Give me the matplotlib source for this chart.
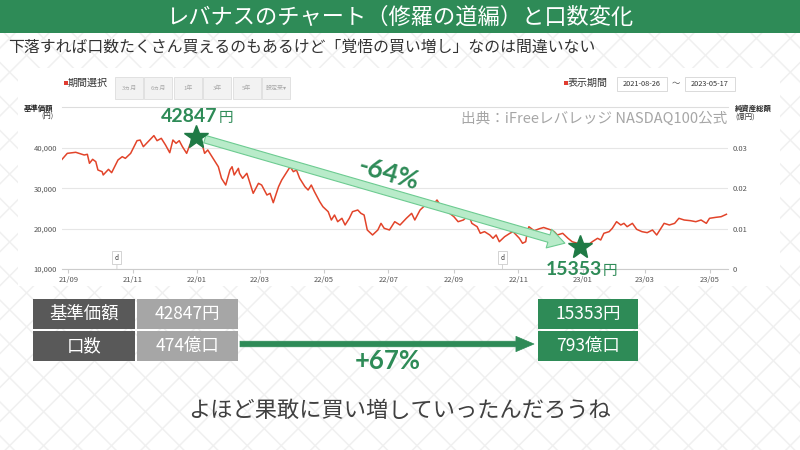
import numpy as np
import pandas as pd
import matplotlib
matplotlib.use('Agg')
import matplotlib.pyplot as plt
import matplotlib.dates as mdates
from matplotlib.patches import Rectangle
from matplotlib.collections import LineCollection
from matplotlib.ticker import FuncFormatter

plt.rcParams['font.family'] = ['Noto Sans CJK JP', 'DejaVu Sans']
num_font = ['Lato', 'Noto Sans CJK JP', 'DejaVu Sans']

# テキスト
title = 'レバナスのチャート（修羅の道編）と口数変化'
subtitle = '下落すれば口数たくさん買えるのもあるけど「覚悟の買い増し」なのは間違いない'
source = '出典：iFreeレバレッジ NASDAQ100公式'
comment = 'よほど果敢に買い増していったんだろうね'
period_buttons = ['3ヵ月', '6ヵ月', '1年', '3年', '5年', '設定来▾']
period = ['2021-08-26', '2023-05-17']
dividend_dates = ['2021-10-17', '2022-10-17']

# 基準価額
dates = ['2021-08-26', '2021-08-31', '2021-09-08', '2021-09-11', '2021-09-16', '2021-09-19',
         '2021-09-21', '2021-09-24', '2021-09-27', '2021-09-29', '2021-10-03', '2021-10-04',
         '2021-10-09', '2021-10-12', '2021-10-18', '2021-10-22', '2021-10-25', '2021-10-30',
         '2021-11-05', '2021-11-08', '2021-11-11', '2021-11-14', '2021-11-21', '2021-11-24',
         '2021-11-28', '2021-12-02', '2021-12-06', '2021-12-09', '2021-12-12', '2021-12-15',
         '2021-12-18', '2021-12-22', '2021-12-25', '2021-12-31', '2022-01-05', '2022-01-08',
         '2022-01-11', '2022-01-15', '2022-01-21', '2022-01-24', '2022-01-28', '2022-02-01',
         '2022-02-03', '2022-02-05', '2022-02-09', '2022-02-10', '2022-02-13', '2022-02-17',
         '2022-02-20', '2022-02-23', '2022-02-28', '2022-03-03', '2022-03-08', '2022-03-11',
         '2022-03-14', '2022-03-19', '2022-03-22', '2022-03-25', '2022-03-30', '2022-04-02',
         '2022-04-05', '2022-04-08', '2022-04-13', '2022-04-16', '2022-04-19', '2022-04-22',
         '2022-04-27', '2022-04-30', '2022-05-05', '2022-05-08', '2022-05-11', '2022-05-14',
         '2022-05-18', '2022-05-21', '2022-05-25', '2022-05-28', '2022-06-02', '2022-06-05',
         '2022-06-08', '2022-06-11', '2022-06-16', '2022-06-21', '2022-06-24', '2022-06-27',
         '2022-07-02', '2022-07-07', '2022-07-12', '2022-07-18', '2022-07-23', '2022-07-26',
         '2022-07-31', '2022-08-05', '2022-08-08', '2022-08-11', '2022-08-16', '2022-08-19',
         '2022-08-24', '2022-08-28', '2022-09-01', '2022-09-05', '2022-09-10', '2022-09-15',
         '2022-09-18', '2022-09-23', '2022-09-26', '2022-09-30', '2022-10-05', '2022-10-08',
         '2022-10-11', '2022-10-14', '2022-10-19', '2022-10-24', '2022-10-27', '2022-10-30',
         '2022-11-02', '2022-11-05', '2022-11-08', '2022-11-09', '2022-11-11', '2022-11-16',
         '2022-11-21', '2022-11-25', '2022-12-02', '2022-12-05', '2022-12-08', '2022-12-13',
         '2022-12-18', '2022-12-22', '2022-12-27', '2022-12-29', '2023-01-06', '2023-01-10',
         '2023-01-15', '2023-01-18', '2023-01-21', '2023-01-26', '2023-01-29', '2023-02-01',
         '2023-02-02', '2023-02-06', '2023-02-09', '2023-02-12', '2023-02-17', '2023-02-21',
         '2023-02-26', '2023-03-03', '2023-03-08', '2023-03-12', '2023-03-16', '2023-03-19',
         '2023-03-24', '2023-03-29', '2023-04-02', '2023-04-07', '2023-04-13', '2023-04-18',
         '2023-04-23', '2023-04-28', '2023-05-01', '2023-05-07', '2023-05-12', '2023-05-17']
prices = [37200, 38700, 38960, 38700, 38290, 38460,
          36230, 37220, 36630, 34570, 34150, 33330,
          34730, 33900, 37050, 37870, 37460, 38700,
          41840, 42000, 40350, 41180, 43100, 41840,
          42430, 40770, 38860, 42010, 41190, 41840,
          40350, 38700, 40770, 42847, 41600, 38700,
          39530, 37870, 35380, 32500, 30840, 34570,
          35380, 33330, 34980, 33750, 32500, 33750,
          31260, 28780, 31260, 30840, 28360, 28780,
          26450, 30420, 32080, 33330, 35380, 34150,
          34570, 32500, 30420, 29600, 30840, 29180,
          26700, 25460, 24220, 22160, 23400, 21740,
          22580, 20920, 22580, 24220, 24640, 23810,
          23400, 19680, 18440, 19680, 21330, 20100,
          19680, 21740, 20920, 22580, 23810, 22160,
          24640, 25880, 26300, 25460, 27120, 25880,
          24640, 23820, 22980, 21740, 22160, 23400,
          21330, 20500, 18860, 19270, 18440, 17620,
          18440, 16770, 18010, 18860, 19270, 18440,
          17620, 16380, 16770, 18440, 20500, 19500,
          20000, 20300, 19680, 19270, 18440, 18860,
          17620, 16770, 16380, 15353, 15960, 16770,
          17620, 17200, 18860, 19270, 20100, 21330,
          21740, 20920, 21330, 20500, 21330, 19850,
          19270, 19020, 19680, 18440, 20100, 21330,
          20920, 21330, 22580, 22160, 21990, 21740,
          22160, 21330, 22580, 22820, 22980, 23580]

peak_date, peak_price = '2021-12-31', 42847
low_date, low_price = '2022-12-29', 15353
row_labels = ['基準価額', '口数']
units = [474, 793]  # 億口

green = '#2e8b57'
W, H = 800, 450

fig = plt.figure(figsize=(8, 4.5), dpi=100)
fig.patch.set_facecolor('white')

# 背景（ピクセル座標）
bg = fig.add_axes([0, 0, 1, 1])
bg.set_xlim(0, W)
bg.set_ylim(H, 0)
bg.axis('off')

# 紗綾形っぽい地紋
segs = []
for i in range(-16, 17):
    for j in range(-16, 17):
        cx, cy = 4 * i, 4 * j
        for (ax_, ay_), (hx, hy) in [((1, 0), (0, 1)), ((0, 1), (-1, 0)),
                                     ((-1, 0), (0, -1)), ((0, -1), (1, 0))]:
            p1 = (cx + 2 * ax_, cy + 2 * ay_)
            p2 = (p1[0] + 2 * hx, p1[1] + 2 * hy)
            segs.append([(cx, cy), p1])
            segs.append([p1, p2])
segs = np.array(segs, dtype=float)
u = 12.0
c = np.sqrt(0.5)
rot = np.empty_like(segs)
rot[..., 0] = (segs[..., 0] - segs[..., 1]) * c * u + 400
rot[..., 1] = (segs[..., 0] + segs[..., 1]) * c * u + 225
bg.add_collection(LineCollection(rot, colors='#f0f0f0', linewidths=1.1, zorder=0))

bg.add_patch(Rectangle((18, 68), 762, 218, fc='white', ec='none', zorder=1))
bg.add_patch(Rectangle((0, 0), W, 33, fc=green, ec='none', zorder=2))
bg.text(400, 17, title, color='white', fontsize=16, ha='center', va='center', zorder=3)
bg.text(8, 47, subtitle, color='#333333', fontsize=11.4, ha='left', va='center', zorder=3)

# チャート上部の操作部分
bg.add_patch(Rectangle((63.5, 81), 4, 4, fc='#e03c31', ec='none', zorder=3))
bg.text(68, 83, '期間選択', fontsize=7.2, color='#333333', va='center', zorder=3)
for k, lab in enumerate(period_buttons):
    x0 = 115 + k * 29.4
    bg.add_patch(Rectangle((x0, 77), 28, 22, fc='#f2f2f2', ec='#dddddd', lw=0.6, zorder=3))
    bg.text(x0 + 14, 88, lab, fontsize=4.3, color='#aaaaaa', ha='center', va='center', zorder=4)
bg.add_patch(Rectangle((563.5, 81), 4, 4, fc='#e03c31', ec='none', zorder=3))
bg.text(568, 83, '表示期間', fontsize=7.2, color='#333333', va='center', zorder=3)
for x0, lab in zip([617, 685], period):
    bg.add_patch(Rectangle((x0, 77), 50, 14, fc='white', ec='#d5d5d5', lw=0.6, zorder=3))
    bg.text(x0 + 25, 84, lab, fontsize=5.3, color='#333333', ha='center', va='center', zorder=4)
bg.text(676, 84, '～', fontsize=6, color='#555555', ha='center', va='center', zorder=4)
bg.plot([62, 728], [107, 107], color='#dddddd', lw=0.8, zorder=3)
bg.text(53, 108, '基準価額', fontsize=5.3, fontweight='bold', color='#222222', ha='right', va='center', zorder=3)
bg.text(53, 117, '(円)', fontsize=5.3, color='#333333', ha='right', va='center', zorder=3)
bg.text(735, 108, '純資産総額', fontsize=5.3, fontweight='bold', color='#222222', ha='left', va='center', zorder=3)
bg.text(735, 117, '(億円)', fontsize=5.3, color='#333333', ha='left', va='center', zorder=3)
bg.text(727, 119, source, fontsize=10.5, color='#a6a6a6', ha='right', va='center', zorder=3)

# 下の表
base_prices = [peak_price, low_price]
rows = [(299, 30), (331, 30)]
for (y0, h), lab in zip(rows, row_labels):
    bg.add_patch(Rectangle((33, y0), 102, h, fc='#595959', ec='none', zorder=3))
    bg.text(84, y0 + h / 2, lab, color='white', fontsize=12.5, ha='center', va='center', zorder=4)
left_vals = [f'{base_prices[0]}円', f'{units[0]}億口']
right_vals = [f'{base_prices[1]}円', f'{units[1]}億口']
for (y0, h), lv, rv in zip(rows, left_vals, right_vals):
    bg.add_patch(Rectangle((137, y0), 101, h, fc='#a6a6a6', ec='none', zorder=3))
    bg.text(187.5, y0 + h / 2, lv, color='white', fontsize=12.5, ha='center', va='center', zorder=4)
    bg.add_patch(Rectangle((538, y0), 100, h, fc=green, ec='none', zorder=3))
    bg.text(588, y0 + h / 2, rv, color='white', fontsize=12.5, ha='center', va='center', zorder=4)

bg.annotate('', xy=(534, 344), xytext=(240, 344),
            arrowprops=dict(arrowstyle='simple,head_length=1.3,head_width=1.1,tail_width=0.4',
                            mutation_scale=10, fc=green, ec=green, lw=0.5,
                            shrinkA=0, shrinkB=0), zorder=4)
unit_change = (units[1] / units[0] - 1) * 100
bg.text(388, 361, f'+{unit_change:.0f}%', family=num_font, fontweight='bold', fontsize=18.5,
        color=green, ha='center', va='center', zorder=4)
bg.text(400, 410, comment, color='#404040', fontsize=16, ha='center', va='center', zorder=3)

# チャート本体
d = pd.to_datetime(dates)
ax = fig.add_axes([62 / W, 1 - 269 / H, (728 - 62) / W, (269 - 107) / H])
ax.set_facecolor('none')
ax.set_zorder(5)
ax.plot(d, prices, color='#e2442a', lw=1.1, zorder=3)
ax.set_xlim(pd.Timestamp('2021-08-26'), pd.Timestamp('2023-05-18 12:00'))
ax.set_ylim(10000, 50200)
ax.set_yticks([10000, 20000, 30000, 40000])
ax.yaxis.set_major_formatter(FuncFormatter(lambda v, p: f'{int(v):,}'))
ax.xaxis.set_major_locator(mdates.MonthLocator(bymonth=[1, 3, 5, 7, 9, 11]))
ax.xaxis.set_major_formatter(mdates.DateFormatter('%y/%m'))
ax.grid(axis='y', color='#e6e6e6', lw=0.8)
for s in ['top', 'left', 'right']:
    ax.spines[s].set_visible(False)
ax.spines['bottom'].set_color('#cccccc')
ax.tick_params(axis='y', length=0, labelsize=5.5, labelcolor='#555555', pad=3.5)
ax.tick_params(axis='x', length=3, color='#cccccc', labelsize=5.5, labelcolor='#555555', pad=2)

ax2 = ax.twinx()
ax2.set_ylim(0, 0.0402)
ax2.set_yticks([0, 0.01, 0.02, 0.03])
ax2.set_yticklabels(['0', '0.01', '0.02', '0.03'])
ax2.tick_params(axis='y', length=0, labelsize=5.5, labelcolor='#555555', pad=3.5)
for s in ax2.spines.values():
    s.set_visible(False)

for dd in pd.to_datetime(dividend_dates):
    ax.annotate('d', xy=(dd, 10000), xytext=(0, 8), textcoords='offset points',
                ha='center', va='center', fontsize=4.5, color='#333333',
                bbox=dict(boxstyle='square,pad=0.4', fc='white', ec='#cccccc', lw=0.6),
                arrowprops=dict(arrowstyle='-', color='#cccccc', lw=0.6, shrinkA=0, shrinkB=0))

pk = pd.Timestamp(peak_date)
lw_ = pd.Timestamp(low_date)
ax.annotate('', xy=(lw_, low_price), xytext=(pk, peak_price),
            arrowprops=dict(arrowstyle='simple,head_length=1.2,head_width=1.4,tail_width=0.55',
                            mutation_scale=10, fc='#b8ebc9', ec='#6dcb91', lw=0.8,
                            shrinkA=6.5, shrinkB=11), zorder=5, annotation_clip=False)
star_green = '#1f7a45'
ax.plot([pk, lw_], [peak_price, low_price], ls='none', marker='*', ms=18,
        color=star_green, zorder=6, clip_on=False)

ax.annotate(f'{peak_price}', xy=(pk, peak_price), xytext=(15.5, 10.5), textcoords='offset points',
            ha='right', va='baseline', family=num_font, fontweight='bold', fontsize=14,
            color=green, annotation_clip=False, zorder=6)
ax.annotate('円', xy=(pk, peak_price), xytext=(16, 10.5), textcoords='offset points',
            ha='left', va='baseline', fontsize=10.5, color=green, annotation_clip=False, zorder=6)
ax.annotate(f'{low_price}', xy=(lw_, low_price), xytext=(16.5, -19.5), textcoords='offset points',
            ha='right', va='baseline', family=num_font, fontweight='bold', fontsize=14,
            color=green, annotation_clip=False, zorder=6)
ax.annotate('円', xy=(lw_, low_price), xytext=(17, -19.5), textcoords='offset points',
            ha='left', va='baseline', fontsize=10.5, color=green, annotation_clip=False, zorder=6)

price_change = (low_price / peak_price - 1) * 100
mid_d = pk + (lw_ - pk) / 2
mid_p = (peak_price + low_price) / 2
ax.annotate(f'{price_change:.0f}%', xy=(mid_d, mid_p), xytext=(0.5, 13), textcoords='offset points',
            ha='center', va='center', rotation=-16, family=num_font, fontweight='bold',
            fontsize=19, color=green, annotation_clip=False, zorder=6)

fig.savefig('out.png', dpi=100)
